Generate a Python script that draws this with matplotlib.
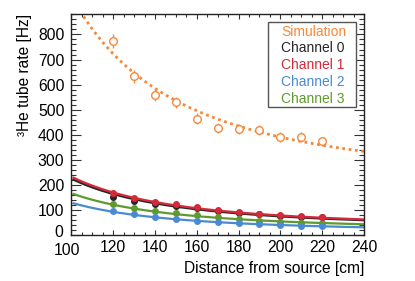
import numpy as np
import matplotlib
matplotlib.use("Agg")
import matplotlib.pyplot as plt
from matplotlib.ticker import MultipleLocator, FuncFormatter
from matplotlib.patches import Rectangle

plt.rcParams['font.family'] = ['Liberation Sans', 'DejaVu Sans']

# Data
distance = [120, 130, 140, 150, 160, 170, 180, 190, 200, 210, 220]
sim_rate = [773, 633, 560, 530, 464, 428, 424, 420, 391, 391, 375]
sim_err = [28, 26, 24, 23, 22, 21, 20, 20, 19, 19, 18]
ch0_rate = [152, 138, 127, 118, 109, 99, 91, 84, 79, 75, 73]
ch1_rate = [168, 150, 132, 124, 112, 101, 92, 85, 80, 76, 74]
ch2_rate = [99, 85, 75, 67, 59, 55, 50, 46, 42, 39, 38]
ch3_rate = [125, 108, 96, 89, 80, 72, 64, 59, 55, 51, 48]

# Fit curves: rate = a / d^2 + c
fit_range = [101, 240]
sim_fit = [7.46e6, 205]
ch0_fit = [2.00e6, 26]
ch1_fit = [2.06e6, 28]
ch2_fit = [1.183e6, 12]
ch3_fit = [1.494e6, 18.6]

labels = ["Simulation", "Channel 0", "Channel 1", "Channel 2", "Channel 3"]
c_sim = '#f5893a'
c0 = '#262626'
c1 = '#d42a3a'
c2 = '#4a8ad4'
c3 = '#5f9a2e'
colors = [c_sim, c0, c1, c2, c3]

x_min, x_max = 100, 240
y_min, y_max = 0, 880

fig = plt.figure(figsize=(4.15, 2.81), dpi=100)
ax = fig.add_axes([0.172, 0.162, 0.705, 0.787])

xf = np.linspace(fit_range[0], fit_range[1], 300)

def model(p):
    return p[0] / xf**2 + p[1]

ax.plot(xf, model(sim_fit), ls=(0, (1, 1.3)), color=c_sim, lw=2.0, zorder=2)
ax.errorbar(distance, sim_rate, yerr=sim_err, fmt='o', mfc='white', mec=c_sim,
            ecolor=c_sim, mew=1.0, ms=5.5, elinewidth=1.0, capsize=0, zorder=3)

for rate, p, col in [(ch0_rate, ch0_fit, c0), (ch3_rate, ch3_fit, c3),
                     (ch2_rate, ch2_fit, c2), (ch1_rate, ch1_fit, c1)]:
    ax.plot(xf, model(p), color=col, lw=1.6, zorder=2)
    ax.plot(distance, rate, 'o', color=col, ms=4, zorder=3)

ax.set_xlim(x_min, x_max)
ax.set_ylim(y_min, y_max)
ax.xaxis.set_major_locator(MultipleLocator(20))
ax.xaxis.set_minor_locator(MultipleLocator(5))
ax.yaxis.set_major_locator(MultipleLocator(100))
ax.yaxis.set_minor_locator(MultipleLocator(20))
# first labels drawn separately (ROOT-style offsets)
ax.xaxis.set_major_formatter(FuncFormatter(lambda v, p: '' if abs(v - x_min) < 1e-6 else f'{v:.0f}'))
ax.yaxis.set_major_formatter(FuncFormatter(lambda v, p: '' if abs(v - y_min) < 1e-6 else f'{v:.0f}'))
ax.tick_params(which='both', direction='in', top=True, right=True,
               labelsize=11.3, color='#333333', width=0.8)
ax.tick_params(axis='x', which='major', length=3.8, pad=3.5)
ax.tick_params(axis='x', which='minor', length=2.0)
ax.tick_params(axis='y', which='major', length=7, pad=5)
ax.tick_params(axis='y', which='minor', length=3.6)
for s in ax.spines.values():
    s.set_linewidth(1.0)
    s.set_color('#222222')

ax.annotate(f'{x_min}', xy=(x_min, 0), xycoords=('data', 'axes fraction'),
            xytext=(-3.5, -5.5), textcoords='offset points', ha='center', va='top',
            fontsize=11.3)
ax.annotate(f'{y_min}', xy=(0, y_min), xycoords=('axes fraction', 'data'),
            xytext=(-5.5, 2.2), textcoords='offset points', ha='right', va='center',
            fontsize=11.3)

ax.set_xlabel("Distance from source [cm]", fontsize=11.2, ha='right', x=1.0, labelpad=4)
ax.set_ylabel("³He tube rate [Hz]", fontsize=11.2, ha='right', y=1.0, labelpad=4)

# Legend: colored text in a box
box = Rectangle((0.672, 0.581), 0.30, 0.384, transform=ax.transAxes, fill=True,
                facecolor='white', edgecolor='#555555', lw=1.0, zorder=5)
ax.add_patch(box)
for i, (t, col) in enumerate(zip(labels, colors)):
    ax.text(0.716, 0.921 - i * 0.0755, t, color=col, fontsize=10, transform=ax.transAxes,
            va='center', ha='left', zorder=6)

fig.savefig("out.png", dpi=100)
